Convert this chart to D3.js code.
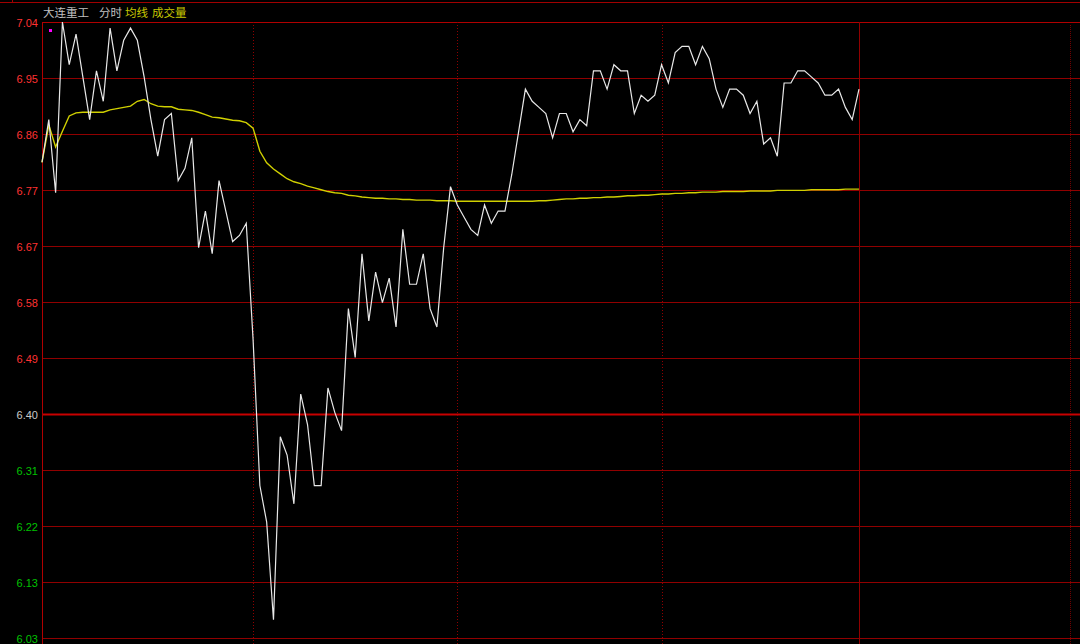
<!DOCTYPE html>
<html>
<head>
<meta charset="utf-8">
<script src="https://cdn.jsdelivr.net/npm/d3@7"></script>
<style>
  body { margin: 0; background: #000; }
  svg { display: block; }
</style>
</head>
<body>
<div id="chart"></div>
<script>
/* intraday (分时) chart: price line + average line */

const priceLabels = ["7.04", "6.95", "6.86", "6.77", "6.67", "6.58", "6.49", "6.40", "6.31", "6.22", "6.13", "6.03"];
const prevCloseIndex = 7; // 6.40 row: above red, below green

const titleParts = [
  { text: "大连重工", color: "#c0c0c0", x: 43 },
  { text: "分时", color: "#c0c0c0", x: 99 },
  { text: "均线", color: "#c8c800", x: 125 },
  { text: "成交量", color: "#c8c800", x: 152 }
];

// one point every 2 minutes, 9:30 -> 15:00 (240 trading minutes)
const prices = [
  6.81, 6.88, 6.76, 7.04, 6.97, 7.02, 6.95, 6.88, 6.96, 6.91,
  7.03, 6.96, 7.01, 7.03, 7.01, 6.95, 6.88, 6.82, 6.88, 6.89,
  6.78, 6.80, 6.85, 6.67, 6.73, 6.66, 6.78, 6.73, 6.68, 6.69,
  6.71, 6.52, 6.28, 6.22, 6.06, 6.36, 6.33, 6.25, 6.43, 6.38,
  6.28, 6.28, 6.44, 6.40, 6.37, 6.57, 6.49, 6.66, 6.55, 6.63,
  6.58, 6.62, 6.54, 6.70, 6.61, 6.61, 6.66, 6.57, 6.54, 6.67,
  6.77, 6.74, 6.72, 6.70, 6.69, 6.74, 6.71, 6.73, 6.73, 6.79,
  6.86, 6.93, 6.91, 6.90, 6.89, 6.85, 6.89, 6.89, 6.86, 6.88,
  6.87, 6.96, 6.96, 6.93, 6.97, 6.96, 6.96, 6.89, 6.92, 6.91,
  6.92, 6.97, 6.94, 6.99, 7.00, 7.00, 6.97, 7.00, 6.98, 6.93,
  6.90, 6.93, 6.93, 6.92, 6.89, 6.91, 6.84, 6.85, 6.82, 6.94,
  6.94, 6.96, 6.96, 6.95, 6.94, 6.92, 6.92, 6.93, 6.90, 6.88,
  6.93
];

const avgPrices = [
  6.810, 6.871, 6.835, 6.861, 6.886, 6.891, 6.892, 6.892, 6.892, 6.892,
  6.896, 6.898, 6.900, 6.902, 6.910, 6.913, 6.906, 6.902, 6.901, 6.901,
  6.897, 6.896, 6.895, 6.892, 6.888, 6.884, 6.883, 6.881, 6.879, 6.878,
  6.875, 6.866, 6.828, 6.809, 6.799, 6.791, 6.783, 6.778, 6.775, 6.771,
  6.768, 6.765, 6.762, 6.760, 6.759, 6.756, 6.755, 6.753, 6.752, 6.751,
  6.751, 6.750, 6.750, 6.749, 6.749, 6.748, 6.748, 6.748, 6.747, 6.747,
  6.747, 6.746, 6.746, 6.746, 6.746, 6.746, 6.746, 6.746, 6.746, 6.746,
  6.746, 6.746, 6.746, 6.747, 6.747, 6.748, 6.749, 6.750, 6.750, 6.751,
  6.751, 6.752, 6.752, 6.753, 6.753, 6.754, 6.755, 6.755, 6.756, 6.756,
  6.757, 6.758, 6.758, 6.759, 6.759, 6.760, 6.760, 6.761, 6.761, 6.761,
  6.762, 6.762, 6.762, 6.762, 6.763, 6.763, 6.763, 6.763, 6.764, 6.764,
  6.764, 6.764, 6.764, 6.765, 6.765, 6.765, 6.765, 6.765, 6.766, 6.766,
  6.766
];

const stepMinutes = 2;
const hourMarks = [62, 122, 182]; // dotted time dividers, as placed in the source chart

let width = 1080,
    height = 644,
    margin = ({ top: 22, right: 221, bottom: 6, left: 42 });

const svg = d3.select("#chart")
  .append("svg")
  .attr("width", width)
  .attr("height", height)
  .style("background", "#000");

let x = d3.scaleLinear()
  .domain([0, 240])
  .range([margin.left, width - margin.right]);

let y = d3.scaleLinear()
  .domain([6.03, 7.04])
  .range([height - margin.bottom, margin.top]);

// evenly spaced grid rows between top and bottom price
let rowStep = (7.04 - 6.03) / (priceLabels.length - 1);
let rowValue = i => 7.04 - i * rowStep;

// top frame line
svg.append("line")
  .attr("x1", 0).attr("x2", width)
  .attr("y1", 2.5).attr("y2", 2.5)
  .attr("stroke", "#a00000");
svg.append("line")
  .attr("x1", 12.5).attr("x2", 12.5)
  .attr("y1", 0).attr("y2", 2)
  .attr("stroke", "#a00000");

// horizontal grid
svg.append("g")
  .selectAll("line")
  .data(priceLabels)
  .join("line")
  .attr("x1", margin.left)
  .attr("x2", width)
  .attr("y1", (d, i) => Math.round(y(rowValue(i))) + 0.5)
  .attr("y2", (d, i) => Math.round(y(rowValue(i))) + 0.5)
  .attr("stroke", (d, i) => i === prevCloseIndex ? "#c80000" : (i === 0 ? "#b00000" : "#900000"))
  .attr("stroke-width", (d, i) => i === prevCloseIndex ? 2 : 1);

// y labels
svg.append("g")
  .selectAll("text")
  .data(priceLabels)
  .join("text")
  .text(d => d)
  .attr("x", 38)
  .attr("y", (d, i) => y(rowValue(i)) + 4.5)
  .attr("text-anchor", "end")
  .attr("font-family", "Liberation Sans, Arial, sans-serif")
  .attr("font-size", "11px")
  .attr("fill", (d, i) => i < prevCloseIndex ? "#ff3232" : (i === prevCloseIndex ? "#c8c8c8" : "#00c000"));

// vertical dotted hour lines
svg.append("g")
  .selectAll("line")
  .data(hourMarks)
  .join("line")
  .attr("x1", d => Math.round(x(d)) + 0.5)
  .attr("x2", d => Math.round(x(d)) + 0.5)
  .attr("y1", margin.top)
  .attr("y2", height)
  .attr("stroke", "#900000")
  .attr("stroke-dasharray", "1,2");

// left border, session end line, right dotted edge
svg.append("line")
  .attr("x1", margin.left + 0.5).attr("x2", margin.left + 0.5)
  .attr("y1", margin.top).attr("y2", height)
  .attr("stroke", "#b00000");
svg.append("line")
  .attr("x1", Math.round(x(240)) + 0.5).attr("x2", Math.round(x(240)) + 0.5)
  .attr("y1", margin.top).attr("y2", height)
  .attr("stroke", "#900000");
svg.append("line")
  .attr("x1", width - 9.5).attr("x2", width - 9.5)
  .attr("y1", 25).attr("y2", height)
  .attr("stroke", "#700000")
  .attr("stroke-dasharray", "1,1");

// title
svg.append("g")
  .selectAll("text")
  .data(titleParts)
  .join("text")
  .text(d => d.text)
  .attr("x", d => d.x)
  .attr("y", 17)
  .attr("font-family", "Noto Sans CJK SC, sans-serif")
  .attr("font-size", "11.5px")
  .attr("fill", d => d.color);

// magenta marker
svg.append("rect")
  .attr("x", 49).attr("y", 29)
  .attr("width", 3).attr("height", 3)
  .attr("fill", "#ff00ff");

let line = d3.line()
  .x((d, i) => x(i * stepMinutes))
  .y(d => y(d));

svg.append("path")
  .datum(avgPrices)
  .attr("fill", "none")
  .attr("stroke", "#d0d000")
  .attr("stroke-width", 1.4)
  .attr("d", line);

svg.append("path")
  .datum(prices)
  .attr("fill", "none")
  .attr("stroke", "#e8e8e8")
  .attr("stroke-width", 1.2)
  .attr("d", line);
</script>
</body>
</html>
